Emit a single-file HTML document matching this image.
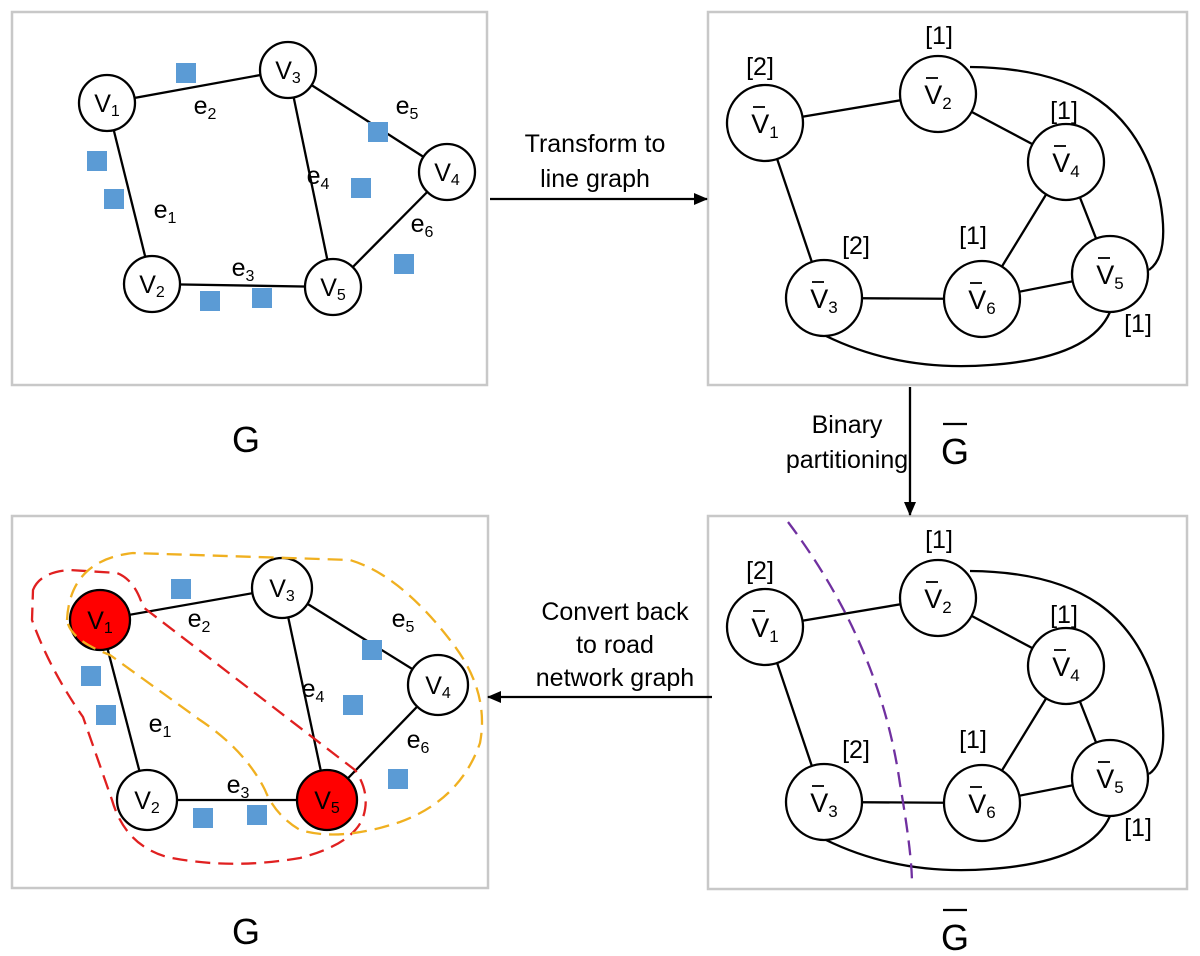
<!DOCTYPE html>
<html><head><meta charset="utf-8"><style>body{margin:0;background:#fff}svg{display:block}text{font-family:"Liberation Sans",sans-serif;fill:#000}</style></head><body>
<svg width="1200" height="956" viewBox="0 0 1200 956" xmlns="http://www.w3.org/2000/svg">
<defs><marker id="ah" markerWidth="14" markerHeight="12" refX="13" refY="6" orient="auto" markerUnits="userSpaceOnUse"><path d="M0,0 L14,6 L0,12 z" fill="#000"/></marker></defs>
<g fill="none" stroke="#c8c8c8" stroke-width="2.5">
<rect x="12" y="12" width="475" height="373"/><rect x="708" y="12" width="479" height="373"/>
<rect x="12" y="516" width="476" height="372"/><rect x="708" y="516" width="479" height="373"/>
</g>
<!-- top-left -->
<g stroke="#000" stroke-width="2.3" fill="none">
<line x1="107" y1="103" x2="288" y2="70"/><line x1="107" y1="103" x2="152" y2="284"/><line x1="152" y1="284" x2="333" y2="287"/><line x1="288" y1="70" x2="333" y2="287"/><line x1="288" y1="70" x2="447" y2="172"/><line x1="447" y1="172" x2="333" y2="287"/>
</g>
<g stroke="#000" stroke-width="2.3" fill="#fff">
<circle cx="107" cy="103" r="28"/><circle cx="288" cy="70" r="28"/><circle cx="447" cy="172" r="28"/><circle cx="333" cy="287" r="28"/><circle cx="152" cy="284" r="28"/>
</g>
<g fill="#5b9bd5"><rect x="176" y="63" width="20" height="20"/><rect x="87" y="151" width="20" height="20"/><rect x="104" y="189" width="20" height="20"/><rect x="368" y="122" width="20" height="20"/><rect x="351" y="178" width="20" height="20"/><rect x="394" y="254" width="20" height="20"/><rect x="200" y="291" width="20" height="20"/><rect x="252" y="288" width="20" height="20"/></g>
<g font-size="25" text-anchor="middle">
<text x="107" y="112">V<tspan font-size="16" dy="4">1</tspan></text><text x="288" y="79">V<tspan font-size="16" dy="4">3</tspan></text><text x="447" y="181">V<tspan font-size="16" dy="4">4</tspan></text><text x="333" y="296">V<tspan font-size="16" dy="4">5</tspan></text><text x="152" y="293">V<tspan font-size="16" dy="4">2</tspan></text>
<text x="205" y="114">e<tspan font-size="16" dy="5">2</tspan></text><text x="407" y="114">e<tspan font-size="16" dy="5">5</tspan></text><text x="318" y="184">e<tspan font-size="16" dy="5">4</tspan></text><text x="165" y="218">e<tspan font-size="16" dy="5">1</tspan></text><text x="422" y="232">e<tspan font-size="16" dy="5">6</tspan></text><text x="243" y="276">e<tspan font-size="16" dy="5">3</tspan></text>
</g>
<!-- bottom-left -->
<g stroke="#000" stroke-width="2.3" fill="none">
<line x1="100" y1="620" x2="282" y2="588"/><line x1="100" y1="620" x2="147" y2="800"/><line x1="147" y1="800" x2="327" y2="800"/><line x1="282" y1="588" x2="327" y2="800"/><line x1="282" y1="588" x2="438" y2="685"/><line x1="438" y1="685" x2="327" y2="800"/>
</g>
<g stroke="#000" stroke-width="2.3">
<circle cx="100" cy="620" r="30" fill="#f00"/><circle cx="282" cy="588" r="30" fill="#fff"/><circle cx="438" cy="685" r="30" fill="#fff"/><circle cx="327" cy="800" r="30" fill="#f00"/><circle cx="147" cy="800" r="30" fill="#fff"/>
</g>
<path d="M33,590 Q40,572 70,570 L117,573 Q135,580 143,607 L355,770 Q372,795 362,820 Q350,845 300,858 Q230,870 167,857 Q125,845 112,800 L83,717 Q50,670 32,620 Z" fill="none" stroke="#e02020" stroke-width="2.3" stroke-dasharray="15,8"/>
<path d="M67,620 Q70,560 133,553 L350,560 Q400,575 450,640 Q490,690 480,743 Q460,800 400,822 Q340,842 300,830 Q275,815 265,790 Q245,750 200,720 L110,655 Q70,640 67,620 Z" fill="none" stroke="#f0b020" stroke-width="2.3" stroke-dasharray="15,8"/>
<g fill="#5b9bd5"><rect x="171" y="579" width="20" height="20"/><rect x="81" y="666" width="20" height="20"/><rect x="96" y="705" width="20" height="20"/><rect x="362" y="640" width="20" height="20"/><rect x="343" y="695" width="20" height="20"/><rect x="388" y="769" width="20" height="20"/><rect x="193" y="808" width="20" height="20"/><rect x="247" y="805" width="20" height="20"/></g>
<g font-size="25" text-anchor="middle">
<text x="100" y="629">V<tspan font-size="16" dy="4">1</tspan></text><text x="282" y="597">V<tspan font-size="16" dy="4">3</tspan></text><text x="438" y="694">V<tspan font-size="16" dy="4">4</tspan></text><text x="327" y="809">V<tspan font-size="16" dy="4">5</tspan></text><text x="147" y="809">V<tspan font-size="16" dy="4">2</tspan></text>
<text x="199" y="627">e<tspan font-size="16" dy="5">2</tspan></text><text x="403" y="627">e<tspan font-size="16" dy="5">5</tspan></text><text x="313" y="697">e<tspan font-size="16" dy="5">4</tspan></text><text x="160" y="732">e<tspan font-size="16" dy="5">1</tspan></text><text x="418" y="748">e<tspan font-size="16" dy="5">6</tspan></text><text x="238" y="793">e<tspan font-size="16" dy="5">3</tspan></text>
</g>
<!-- top-right -->
<g>
<g stroke="#000" stroke-width="2.3" fill="none">
<line x1="765" y1="123" x2="938" y2="94"/><line x1="765" y1="123" x2="824" y2="298"/><line x1="938" y1="94" x2="1066" y2="162"/><line x1="1066" y1="162" x2="982" y2="299"/><line x1="1066" y1="162" x2="1110" y2="274"/><line x1="824" y1="298" x2="982" y2="299"/><line x1="982" y1="299" x2="1110" y2="274"/>
<path d="M970,67 C1080,68 1140,110 1160,200 Q1170,255 1149,270"/>
<path d="M826,336 Q900,372 990,365 Q1090,358 1110,312"/>
</g>
<g stroke="#000" stroke-width="2.3" fill="#fff">
<circle cx="765" cy="123" r="38"/><circle cx="938" cy="94" r="38"/><circle cx="1066" cy="162" r="38"/><circle cx="1110" cy="274" r="38"/><circle cx="982" cy="299" r="38"/><circle cx="824" cy="298" r="38"/>
</g>
<g stroke="#000" stroke-width="1.8">
<line x1="753" y1="107" x2="765" y2="107"/><line x1="926" y1="78" x2="938" y2="78"/><line x1="1054" y1="146" x2="1066" y2="146"/><line x1="1098" y1="258" x2="1110" y2="258"/><line x1="970" y1="283" x2="982" y2="283"/><line x1="812" y1="282" x2="824" y2="282"/>
</g>
<g font-size="27" text-anchor="middle">
<text x="765" y="133">V<tspan font-size="17" dy="5">1</tspan></text><text x="938" y="104">V<tspan font-size="17" dy="5">2</tspan></text><text x="1066" y="172">V<tspan font-size="17" dy="5">4</tspan></text><text x="1110" y="284">V<tspan font-size="17" dy="5">5</tspan></text><text x="982" y="309">V<tspan font-size="17" dy="5">6</tspan></text><text x="824" y="308">V<tspan font-size="17" dy="5">3</tspan></text>
</g>
<g font-size="25" text-anchor="middle">
<text x="939" y="44">[1]</text><text x="760" y="75">[2]</text><text x="1064" y="119">[1]</text><text x="973" y="244">[1]</text><text x="856" y="254">[2]</text><text x="1138" y="332">[1]</text>
</g>
</g>
<!-- bottom-right -->
<g transform="translate(0,504)">
<g stroke="#000" stroke-width="2.3" fill="none">
<line x1="765" y1="123" x2="938" y2="94"/><line x1="765" y1="123" x2="824" y2="298"/><line x1="938" y1="94" x2="1066" y2="162"/><line x1="1066" y1="162" x2="982" y2="299"/><line x1="1066" y1="162" x2="1110" y2="274"/><line x1="824" y1="298" x2="982" y2="299"/><line x1="982" y1="299" x2="1110" y2="274"/>
<path d="M970,67 C1080,68 1140,110 1160,200 Q1170,255 1149,270"/>
<path d="M826,336 Q900,372 990,365 Q1090,358 1110,312"/>
</g>
<g stroke="#000" stroke-width="2.3" fill="#fff">
<circle cx="765" cy="123" r="38"/><circle cx="938" cy="94" r="38"/><circle cx="1066" cy="162" r="38"/><circle cx="1110" cy="274" r="38"/><circle cx="982" cy="299" r="38"/><circle cx="824" cy="298" r="38"/>
</g>
<g stroke="#000" stroke-width="1.8">
<line x1="753" y1="107" x2="765" y2="107"/><line x1="926" y1="78" x2="938" y2="78"/><line x1="1054" y1="146" x2="1066" y2="146"/><line x1="1098" y1="258" x2="1110" y2="258"/><line x1="970" y1="283" x2="982" y2="283"/><line x1="812" y1="282" x2="824" y2="282"/>
</g>
<g font-size="27" text-anchor="middle">
<text x="765" y="133">V<tspan font-size="17" dy="5">1</tspan></text><text x="938" y="104">V<tspan font-size="17" dy="5">2</tspan></text><text x="1066" y="172">V<tspan font-size="17" dy="5">4</tspan></text><text x="1110" y="284">V<tspan font-size="17" dy="5">5</tspan></text><text x="982" y="309">V<tspan font-size="17" dy="5">6</tspan></text><text x="824" y="308">V<tspan font-size="17" dy="5">3</tspan></text>
</g>
<g font-size="25" text-anchor="middle">
<text x="939" y="44">[1]</text><text x="760" y="75">[2]</text><text x="1064" y="119">[1]</text><text x="973" y="244">[1]</text><text x="856" y="254">[2]</text><text x="1138" y="332">[1]</text>
</g>
<path d="M788,18 Q880,140 900,280 Q912,350 912,380" fill="none" stroke="#7030a0" stroke-width="2.3" stroke-dasharray="15,8"/>
</g>
<!-- arrows -->
<g stroke="#000" stroke-width="2.3" fill="none">
<line x1="490" y1="199" x2="707" y2="199" marker-end="url(#ah)"/>
<line x1="910" y1="387" x2="910" y2="515" marker-end="url(#ah)"/>
<line x1="712" y1="697" x2="488" y2="697" marker-end="url(#ah)"/>
</g>
<g font-size="25" text-anchor="middle">
<text x="595" y="152">Transform to</text><text x="595" y="187">line graph</text>
<text x="847" y="433">Binary</text><text x="847" y="468">partitioning</text>
<text x="615" y="620">Convert back</text><text x="615" y="653">to road</text><text x="615" y="686">network graph</text>
</g>
<g font-size="36" text-anchor="middle">
<text x="246" y="452">G</text><text x="246" y="944">G</text><text x="955" y="464">G</text><text x="955" y="950">G</text>
</g>
<g stroke="#000" stroke-width="2.3"><line x1="943" y1="424" x2="967" y2="424"/><line x1="943" y1="910" x2="967" y2="910"/></g>
</svg>
</body></html>
